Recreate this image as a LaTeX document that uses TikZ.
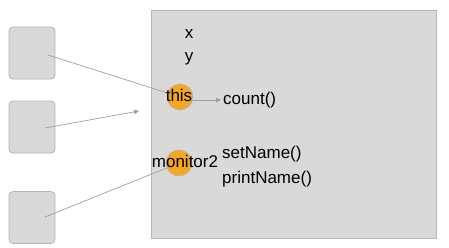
\documentclass[tikz,border=0pt]{standalone}
\usepackage{fontspec}
\setmainfont{Liberation Sans}
\usetikzlibrary{arrows.meta}
\definecolor{panel}{HTML}{D9D9D9}
\definecolor{edge}{HTML}{B5B5B5}
\definecolor{wire}{HTML}{9E9E9E}
\definecolor{dot}{HTML}{F5A623}
\tikzset{
  frame/.style={draw=edge, fill=panel, line width=0.8pt},
  slot/.style={draw=edge, fill=panel, line width=0.8pt, rounded corners=4pt,
    minimum width=46pt, minimum height=52pt, inner sep=0pt},
  ref/.style={circle, draw=edge, fill=dot, line width=0.6pt,
    minimum size=26pt, inner sep=0pt},
  lbl/.style={font=\fontsize{17}{20}\selectfont, inner sep=0pt, text=black},
  conn/.style={draw=wire, line width=0.7pt},
  arr/.style={conn, -{Triangle[length=5pt,width=4.5pt]}}
}
\begin{document}
\begin{tikzpicture}[x=1pt, y=-1pt]
\useasboundingbox (0,0) rectangle (449,247);
% object body
\draw[frame] (151,10) rectangle (436,238);
% stack slots
\node[slot] (s1) at (32,53) {};
\node[slot] (s2) at (32,127) {};
\node[slot] (s3) at (32,217.5) {};
% reference dots
\node[ref] (this) at (180,97) {};
\node[ref] (mon) at (179,163) {};
% member labels
\node[lbl, anchor=base] (fx) at (189,38) {x};
\node[lbl, anchor=base] (fy) at (189,61) {y};
\node[lbl, anchor=base west] (count) at (223,104) {count()};
\node[lbl, anchor=base west] (setn) at (222,158) {setName()};
\node[lbl, anchor=base west] (printn) at (222,183) {printName()};
% connector end points inside the slots
\coordinate (p1) at (48,55);
\coordinate (p2) at (45,128);
\coordinate (p3) at (45,217);
\coordinate (q2) at (139,111);
% connectors
\draw[conn] (p1) -- (this);
\draw[arr] (p2) -- (q2);
\draw[conn] (p3) -- (mon);
\draw[arr] (this.east |- 0,100) -- ([xshift=-2pt]count.west |- 0,100);
% dot labels on top
\node[lbl, anchor=base] (thist) at (179,101.5) {this};
\node[lbl, anchor=base] (mont) at (185,167) {monitor2};
\end{tikzpicture}
\end{document}
